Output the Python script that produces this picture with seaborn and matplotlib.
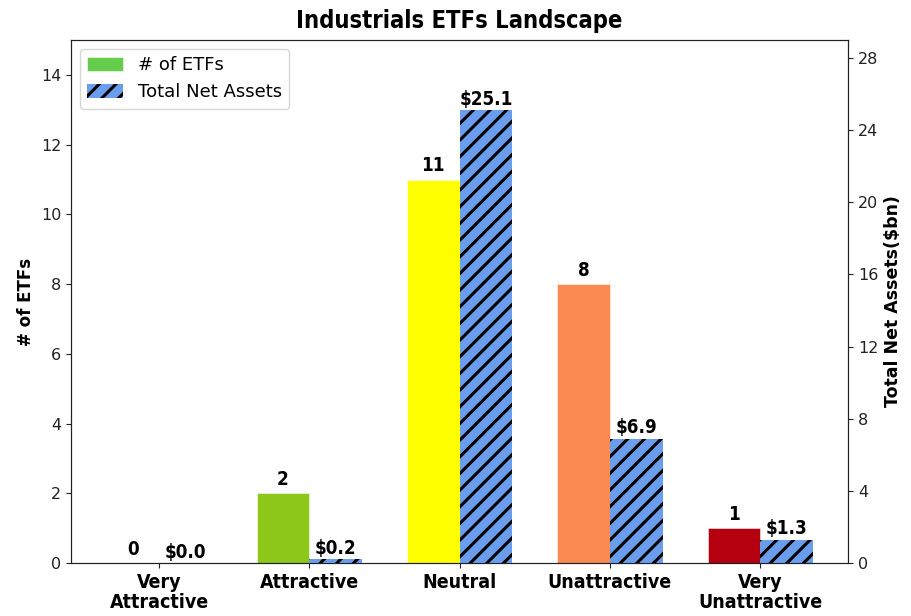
import matplotlib
matplotlib.use("Agg")
import matplotlib.pyplot as plt
import pandas as pd
import seaborn as sns

categories = ["Very\nAttractive", "Attractive", "Neutral", "Unattractive", "Very\nUnattractive"]
num_etfs = [0, 2, 11, 8, 1]
net_assets = [0.0, 0.2, 25.1, 6.9, 1.3]
rating_colors = ["#66cc4c", "#8dc71a", "#ffff00", "#fa8952", "#b5000f"]
asset_color = "#6b9ded"
series = ["# of ETFs", "Total Net Assets"]

sns.set_style("ticks", {"axes.edgecolor": "#222222", "text.color": "black",
                        "xtick.color": "#222222", "ytick.color": "#222222",
                        "axes.labelcolor": "black"})
plt.rcParams["font.family"] = ["DejaVu Sans"]
plt.rcParams["hatch.linewidth"] = 2.2
plt.rcParams["hatch.color"] = "black"

cond = dict(fontweight="bold", fontstretch="condensed", color="black")

df = pd.DataFrame({
    "category": categories * 2,
    "series": [series[0]] * 5 + [series[1]] * 5,
    "etfs": num_etfs + [float("nan")] * 5,
    "assets": [float("nan")] * 5 + net_assets,
})

fig, ax1 = plt.subplots(figsize=(9.11, 6.16), dpi=100)
ax2 = ax1.twinx()

sns.barplot(data=df, x="category", y="etfs", hue="series", hue_order=series,
            order=categories, dodge=True, width=0.7, ax=ax1, legend=False,
            color=rating_colors[0], saturation=1)
sns.barplot(data=df, x="category", y="assets", hue="series", hue_order=series,
            order=categories, dodge=True, width=0.7, ax=ax2, legend=False,
            color=asset_color, saturation=1)

bars1 = [p for p in ax1.patches if p.get_width() > 0][:5]
bars2 = [p for p in ax2.patches if p.get_width() > 0][:5]
for p, c in zip(bars1, rating_colors):
    p.set_facecolor(c)
    p.set_edgecolor((1, 1, 1, 0.6))
    p.set_linewidth(0.6)
for p in bars2:
    p.set_facecolor(asset_color)
    p.set_hatch("//")
    p.set_edgecolor("black")
    p.set_linewidth(0)

ax1.bar_label(ax1.containers[0], labels=[f"{v:d}" for v in num_etfs],
              padding=3, fontsize=13.5, **cond)
ax2.bar_label(ax2.containers[-1], labels=[f"${v:.1f}" for v in net_assets],
              padding=1, fontsize=13.5, **cond)

ax1.set_xlim(-0.585, 4.585)
ax1.set_ylim(0, 15)
ax2.set_ylim(0, 29)
ax1.set_yticks(range(0, 15, 2))
ax2.set_yticks(range(0, 29, 4))
ax1.set_xlabel("")
ax1.set_ylabel("# of ETFs", fontsize=12, fontweight="bold")
ax2.set_ylabel("Total Net Assets($bn)", fontsize=12.5, fontweight="bold")
ax1.tick_params(axis="y", labelsize=11.5)
ax2.tick_params(axis="y", labelsize=11.5)
ax1.set_xticks(range(len(categories)))
ax1.set_xticklabels(categories, fontsize=14, **cond, linespacing=1.1)
ax1.set_title("Industrials ETFs Landscape", fontsize=17, pad=9, **cond)

ax2.legend(handles=[bars1[0], bars2[0]], labels=series, loc="upper left",
           fontsize=13, handlelength=2.0, handleheight=0.8)

fig.subplots_adjust(left=0.078, right=0.931, top=0.935, bottom=0.086)
fig.savefig("out.png", dpi=100)
